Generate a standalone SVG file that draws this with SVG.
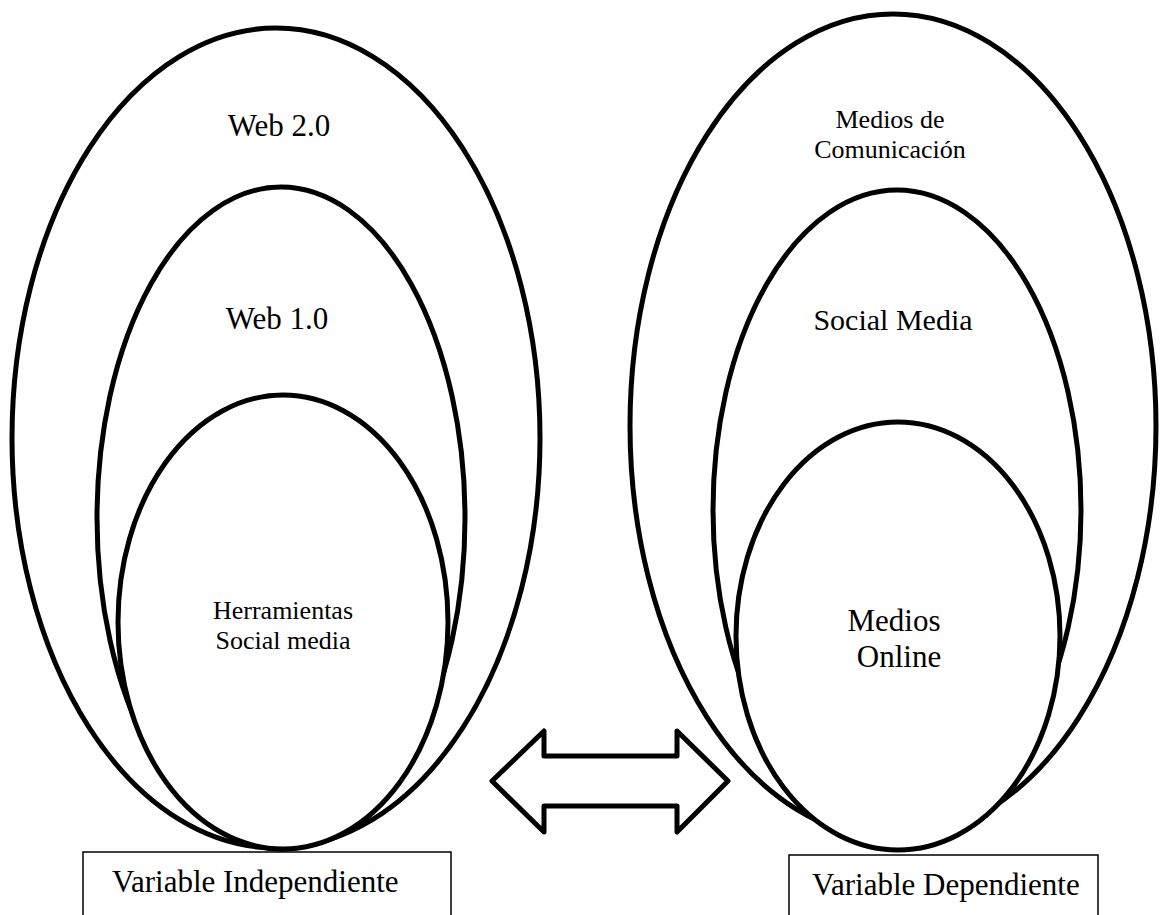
<svg xmlns="http://www.w3.org/2000/svg" width="1162" height="915" viewBox="0 0 1162 915">
<style>
.el{fill:#fff;stroke:#000;stroke-width:5}
.bx{fill:#fff;stroke:#000;stroke-width:1.5}
.t{font-family:"Liberation Serif","Times New Roman",serif;fill:#000;text-anchor:middle}
.st{text-anchor:start}
.l{font-size:31px}
.m{font-size:30px}
.s{font-size:26px}
</style>
<rect width="1162" height="915" fill="#fff"/>
<g id="web20"><ellipse class="el" cx="276" cy="438" rx="264" ry="410"/><text class="t l" x="279" y="136">Web 2.0</text></g>
<g id="web10"><ellipse class="el" cx="281" cy="518" rx="184" ry="331"/><text class="t l" x="277" y="329">Web 1.0</text></g>
<g id="herramientas"><ellipse class="el" cx="283" cy="622" rx="165" ry="227"/><text class="t s" x="283" y="619">Herramientas</text><text class="t s" x="283" y="649">Social media</text></g>
<g id="medios-comunicacion"><ellipse class="el" cx="893" cy="426" rx="263" ry="412"/><text class="t s" x="890" y="128">Medios de</text><text class="t s" x="890" y="158">Comunicación</text></g>
<g id="social-media"><ellipse class="el" cx="897" cy="510" rx="184" ry="320"/><text class="t m" x="893" y="330">Social Media</text></g>
<g id="medios-online"><ellipse class="el" cx="898" cy="636" rx="162" ry="214"/><text class="t l" x="894" y="631">Medios</text><text class="t l" x="899" y="667">Online</text></g>
<g id="connectors"><polygon points="492,781 544,731 544,756 677,756 677,731 728,781 677,832 677,806 544,806 544,832" fill="#fff" stroke="#000" stroke-width="5" stroke-linejoin="round"/></g>
<g id="var-independiente"><rect class="bx" x="83" y="852" width="368" height="80"/><text class="t l st" x="112" y="892">Variable Independiente</text></g>
<g id="var-dependiente"><rect class="bx" x="789" y="855" width="309" height="80"/><text class="t l st" x="812" y="895">Variable Dependiente</text></g>
</svg>
